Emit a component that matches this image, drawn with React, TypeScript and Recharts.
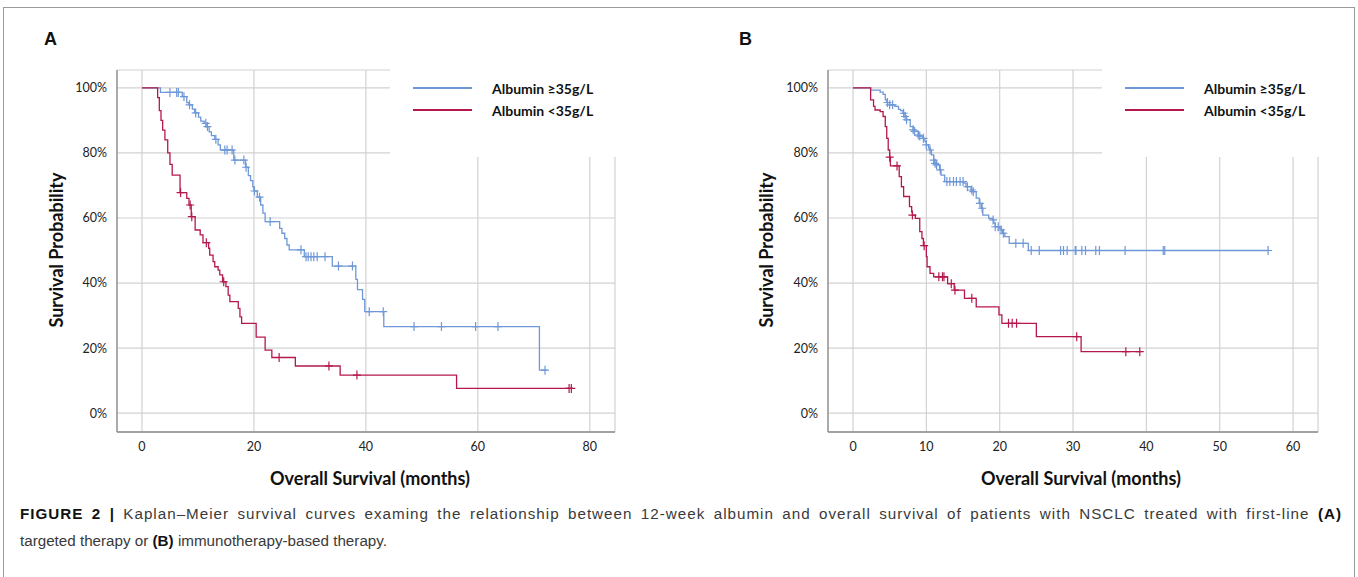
import React from "react";
import { ComposedChart, Line, Scatter, XAxis, YAxis, CartesianGrid } from "recharts";

// ---------- DATA ----------
const yTicks = [0, 20, 40, 60, 80, 100];
const xTicksA = [0, 20, 40, 60, 80];
const xTicksB = [0, 10, 20, 30, 40, 50, 60];

const seriesNames = ["Albumin \u226535g/L", "Albumin <35g/L"];

// Panel A (targeted therapy): [time (months), survival %]
const highAlbA: number[][] = [
  [0, 100], [3.3, 98.6], [7.2, 97.3], [8.0, 95.5], [8.4, 94.8], [9.0, 93.5], [9.4, 92.3], [10.1, 91], [10.5, 89.8],
  [11.1, 89.1], [11.6, 88.1], [12.0, 86.5], [12.4, 85.3], [13.0, 84.2], [13.6, 82.5], [14.0, 80.9], [16.4, 77.8],
  [18.5, 75.6], [19.0, 73], [19.4, 71.5], [19.8, 69.6], [20.0, 68.3], [20.6, 66.4], [21.2, 64], [21.6, 61.5],
  [22.0, 58.9], [24.6, 56.8], [25.0, 55.3], [25.5, 53.7], [25.9, 51.7], [26.3, 50.2], [29.0, 48.1], [34.0, 45.2],
  [38.2, 41.1], [38.5, 38.0], [39.4, 35.0], [39.8, 31.2], [43.2, 26.6], [71.0, 13.2], [72.3, 13.2],
];
const highAlbACensor = [
  5.0, 6.2, 6.5, 7.5, 8.5, 9.6, 11.4, 11.7, 13.2, 14.8, 15.2, 16.1, 16.6, 18.2, 18.6, 20.1, 21.0, 22.9, 28.4,
  29.3, 29.7, 30.2, 30.7, 31.3, 32.7, 35.1, 37.6, 40.6, 43.1, 48.6, 53.5, 59.6, 63.6, 72.0,
];
const lowAlbA: number[][] = [
  [0, 100], [2.8, 97], [3.1, 93], [3.4, 90], [3.7, 87], [4.1, 84], [4.6, 80], [5.0, 76.5], [5.4, 73.2], [6.8, 67.8],
  [8.0, 66], [8.4, 64], [8.8, 60.4], [9.5, 56.3], [10.4, 54.8], [10.9, 52.4], [11.9, 50.7], [12.1, 48.6],
  [12.7, 46.6], [13.0, 45], [13.6, 44], [13.9, 42.5], [14.4, 40.4], [15.0, 38.9], [15.4, 36.3], [15.7, 34.3],
  [17.2, 32.2], [17.5, 29.6], [17.8, 27.6], [20.4, 23.4], [22.0, 19.4], [23.2, 17.1], [27.4, 14.5], [35.4, 11.7],
  [56.2, 7.6], [76.8, 7.6],
];
const lowAlbACensor = [6.9, 8.6, 8.9, 11.5, 14.6, 24.5, 33.4, 38.4, 76.3, 76.7];

// Panel B (immunotherapy-based therapy)
const highAlbB: number[][] = [
  [0, 100], [2.4, 99.3], [3.7, 98.7], [4.1, 98.0], [4.4, 96.3], [4.6, 95.5], [5.0, 94.8], [5.7, 94.3], [6.2, 93.4],
  [6.5, 93], [6.8, 92.2], [7.1, 91.2], [7.3, 90.2], [7.8, 88.1], [8.2, 87.1], [8.4, 86.6], [8.9, 85.5], [9.1, 85.2],
  [9.5, 84.5], [9.8, 83.5], [10.0, 82.5], [10.3, 81.5], [10.5, 80.9], [10.7, 79.4], [11.0, 77.8], [11.1, 76.8],
  [11.3, 76.3], [11.8, 74.8], [12.0, 73.2], [12.5, 71.2], [15.1, 70.7], [15.4, 69.6], [16.1, 68.6], [16.4, 68.1],
  [16.8, 66.1], [17.2, 64.5], [17.5, 63], [17.7, 60.9], [18.5, 59.9], [19.0, 59.4], [19.2, 58.4], [19.4, 57.3],
  [20.0, 56.8], [20.2, 56.3], [20.4, 55.3], [20.7, 54.3], [21.3, 52.2], [23.9, 50], [56.7, 50],
];
const highAlbBCensor = [
  4.7, 5.0, 5.4, 6.9, 7.1, 7.3, 8.2, 8.4, 8.9, 9.1, 9.6, 10.0, 10.5, 11.0, 11.2, 11.4, 11.9, 12.8, 13.2, 13.7, 14.1,
  14.6, 15.0, 15.6, 16.2, 16.4, 17.3, 17.6, 19.1, 19.4, 19.8, 20.2, 20.5, 22.2, 23.2, 24.3, 25.4, 28.3, 28.7, 29.2,
  30.3, 30.4, 31.2, 31.7, 33.1, 33.6, 37.1, 42.3, 42.5, 56.6,
];
const lowAlbB: number[][] = [
  [0, 100], [2.4, 96.3], [2.8, 94.3], [3.0, 93.2], [3.7, 92.7], [4.1, 91.2], [4.4, 88.1], [4.6, 84.5], [4.8, 80.9],
  [5.0, 78.7], [5.1, 76], [6.3, 72.7], [6.6, 69.6], [6.9, 66.6], [7.7, 63.5], [8.0, 61.9], [8.1, 60.9], [8.5, 59.9],
  [9.1, 55.8], [9.4, 53.7], [9.6, 51.5], [10.0, 48.1], [10.1, 45], [10.5, 43], [11.0, 41.9], [12.9, 39.8],
  [13.8, 37.8], [15.2, 35.3], [16.8, 32.7], [19.9, 30.2], [20.3, 27.6], [25.0, 23.5], [31.1, 18.9], [39.3, 18.9],
];
const lowAlbBCensor = [5.0, 6.0, 8.1, 9.7, 11.7, 12.2, 12.4, 13.4, 13.9, 16.2, 21.2, 21.7, 22.3, 30.5, 37.2, 39.1];

// ---------- STYLE ----------
const BLUE = "#6f98d8";
const RED = "#b5194b";
const GRID = "#d2d2d2";
const AXIS = "#8c8c8c";
const CHART_FONT = "Lato, 'Open Sans', sans-serif";

const toPoints = (steps: number[][]) => steps.map(([t, s]) => ({ t, s }));
const survivalAt = (steps: number[][], t: number) => {
  let v = steps[0][1];
  for (const [tt, s] of steps) {
    if (tt <= t) v = s;
  }
  return v;
};
const censorPoints = (steps: number[][], times: number[]) => times.map((t) => ({ t, s: survivalAt(steps, t) }));

const makeCross = (color: string) => (props: any) => {
  const { cx, cy } = props;
  if (cx == null || cy == null) return <g />;
  return <path d={`M${cx - 4},${cy}h8M${cx},${cy - 4.5}v9`} stroke={color} strokeWidth={1.2} fill="none" />;
};

type PanelProps = {
  left: number;
  width: number;
  xDomain: number[];
  xTicks: number[];
  high: number[][];
  highC: number[];
  low: number[][];
  lowC: number[];
  marginRight: number;
};

function Panel({ left, width, xDomain, xTicks, high, highC, low, lowC, marginRight }: PanelProps) {
  return (
    <div style={{ position: "absolute", left, top: 0 }}>
      <ComposedChart
        width={width}
        height={470}
        margin={{ top: 70, right: marginRight, bottom: 8, left: 57 }}
        style={{ fontFamily: CHART_FONT }}
      >
        <CartesianGrid stroke={GRID} strokeWidth={1.2} />
        <XAxis
          type="number"
          dataKey="t"
          domain={xDomain}
          ticks={xTicks}
          allowDataOverflow
          tickLine={false}
          axisLine={{ stroke: AXIS, strokeWidth: 1.3 }}
          tickSize={6}
          tickMargin={4}
          height={30}
          tick={{ fill: "#222", fontSize: 12.5 }}
        />
        <YAxis
          type="number"
          domain={[-5.8, 105.5]}
          ticks={yTicks}
          allowDataOverflow
          tickFormatter={(v: number) => `${v}%`}
          tickLine={false}
          axisLine={{ stroke: AXIS, strokeWidth: 1.3 }}
          tickSize={6}
          tickMargin={4}
          width={60}
          tick={{ fill: "#222", fontSize: 12.5 }}
        />
        <Line
          data={toPoints(high)}
          dataKey="s"
          type="stepAfter"
          stroke={BLUE}
          strokeWidth={1.3}
          dot={false}
          isAnimationActive={false}
        />
        <Line
          data={toPoints(low)}
          dataKey="s"
          type="stepAfter"
          stroke={RED}
          strokeWidth={1.3}
          dot={false}
          isAnimationActive={false}
        />
        <Scatter data={censorPoints(high, highC)} dataKey="s" shape={makeCross(BLUE)} isAnimationActive={false} />
        <Scatter data={censorPoints(low, lowC)} dataKey="s" shape={makeCross(RED)} isAnimationActive={false} />
      </ComposedChart>
    </div>
  );
}

function LegendBox({ left, width }: { left: number; width: number }) {
  const colors = [BLUE, RED];
  return (
    <div
      style={{
        position: "absolute",
        left,
        top: 60,
        width,
        height: 97,
        background: "#fff",
        fontFamily: CHART_FONT,
      }}
    >
      {seriesNames.map((name, i) => (
        <div key={name} style={{ position: "absolute", left: 23, top: 18 + i * 22, height: 20, display: "flex", alignItems: "center" }}>
          <div style={{ width: 59, height: 2, background: colors[i] }} />
          <span style={{ marginLeft: 20, fontWeight: 700, fontSize: 14, color: "#111", whiteSpace: "nowrap" }}>{name}</span>
        </div>
      ))}
    </div>
  );
}

const yTitleStyle = (left: number): React.CSSProperties => ({
  position: "absolute",
  left: left - 110,
  top: 240,
  width: 220,
  textAlign: "center",
  transform: "rotate(-90deg)",
  fontFamily: CHART_FONT,
  fontWeight: 700,
  fontSize: 18,
  color: "#111",
  lineHeight: "20px",
});

const xTitleStyle = (center: number): React.CSSProperties => ({
  position: "absolute",
  left: center - 160,
  top: 467,
  width: 320,
  textAlign: "center",
  fontFamily: CHART_FONT,
  fontWeight: 700,
  fontSize: 18,
  color: "#111",
  lineHeight: "22px",
});

const letterStyle = (left: number): React.CSSProperties => ({
  position: "absolute",
  left,
  top: 29,
  fontFamily: "'Liberation Sans', Arial, sans-serif",
  fontWeight: 700,
  fontSize: 18,
  color: "#111",
});

const captionLine: React.CSSProperties = {
  position: "absolute",
  left: 20,
  width: 1322,
  fontFamily: "'Liberation Sans', Arial, sans-serif",
  fontSize: 15.2,
  lineHeight: "27px",
  color: "#3a3a3a",
  whiteSpace: "nowrap",
};

export default function App() {
  return (
    <div style={{ position: "absolute", left: 0, top: 0, width: 1358, height: 577, overflow: "hidden", background: "#fff" }}>
      <div
        style={{
          position: "absolute",
          left: 3,
          top: 7,
          width: 1350,
          height: 600,
          border: "1.5px solid #9a9a9a",
        }}
      />
      <Panel
        left={0}
        width={640}
        xDomain={[-4.46, 84.5]}
        xTicks={xTicksA}
        high={highAlbA}
        highC={highAlbACensor}
        low={lowAlbA}
        lowC={lowAlbACensor}
        marginRight={25}
      />
      <Panel
        left={711}
        width={640}
        xDomain={[-3.41, 63.4]}
        xTicks={xTicksB}
        high={highAlbB}
        highC={highAlbBCensor}
        low={lowAlbB}
        lowC={lowAlbBCensor}
        marginRight={33}
      />
      <LegendBox left={390} width={240} />
      <LegendBox left={1102} width={230} />
      <div style={letterStyle(44)}>A</div>
      <div style={letterStyle(739)}>B</div>
      <div style={yTitleStyle(56)}>Survival Probability</div>
      <div style={yTitleStyle(766)}>Survival Probability</div>
      <div style={xTitleStyle(370)}>Overall Survival (months)</div>
      <div style={xTitleStyle(1081)}>Overall Survival (months)</div>
      <div
        style={{
          ...captionLine,
          top: 500,
          whiteSpace: "normal",
          letterSpacing: "1px",
          textAlign: "justify",
          textAlignLast: "justify",
        }}
      >
        <b style={{ color: "#111" }}>FIGURE 2 |</b> Kaplan–Meier survival curves examing the relationship between 12-week
        albumin and overall survival of patients with NSCLC treated with first-line <b style={{ color: "#111" }}>(A)</b>
      </div>
      <div style={{ ...captionLine, top: 527 }}>
        targeted therapy or <b style={{ color: "#111" }}>(B)</b> immunotherapy-based therapy.
      </div>
    </div>
  );
}
